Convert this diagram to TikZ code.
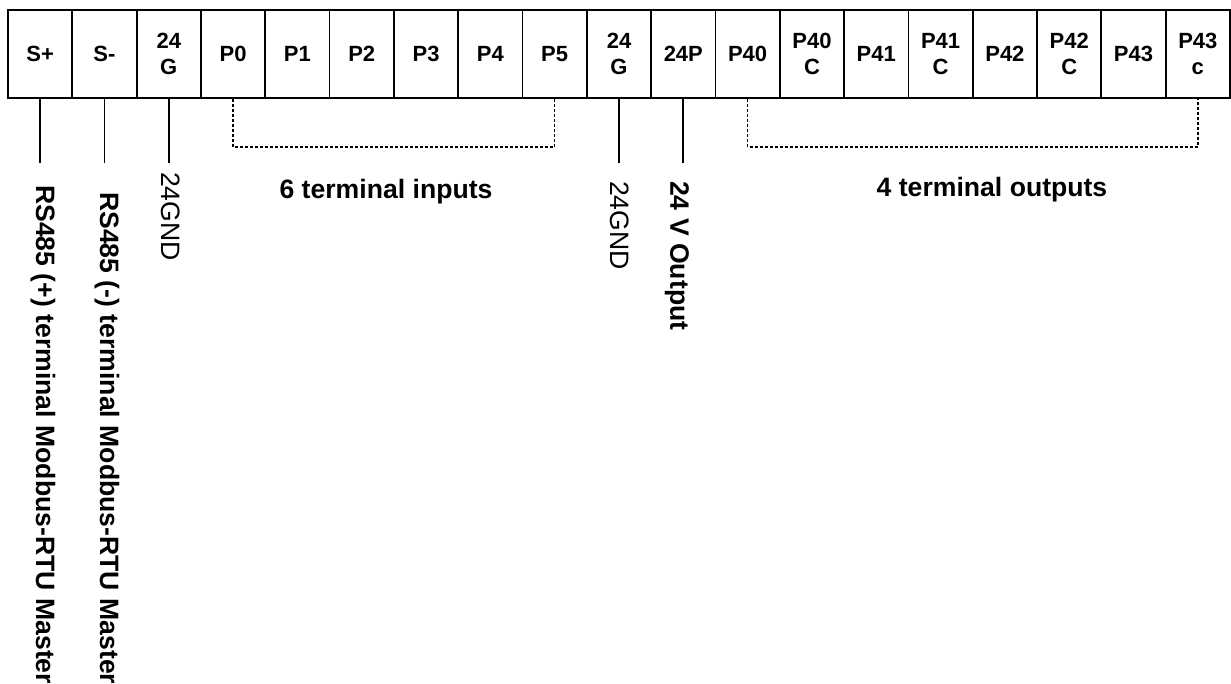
\documentclass[tikz,border=0pt]{standalone}
\usepackage{fontspec}
\setmainfont{Liberation Sans}
\begin{document}
\begin{tikzpicture}[x=1pt,y=-1pt,
  cell/.style={draw,line width=1.8pt,minimum width=64.316pt,minimum height=88pt,inner sep=0pt,align=center,
    font=\fontsize{22}{26}\selectfont\bfseries},
  wire/.style={line width=1.8pt},
  bus/.style={line width=1.4pt,dash pattern=on 3pt off 2pt},
  vlab/.style={rotate=-90,anchor=west,inner sep=0pt,font=\fontsize{26.6}{30}\selectfont\bfseries},
  vlabreg/.style={rotate=-90,anchor=west,inner sep=0pt,font=\fontsize{26.6}{30}\selectfont},
  hlab/.style={inner sep=0pt,font=\fontsize{26.6}{30}\selectfont\bfseries}]
\useasboundingbox (0,0) rectangle (1231,684);
\foreach \lab [count=\i from 0] in {S+,S-,{24\\G},P0,P1,P2,P3,P4,P5,{24\\G},24P,P40,{P40\\C},P41,{P41\\C},P42,{P42\\C},P43,{P43\\c}}
  \node[cell] (c\i) at ({8+(\i+0.5)*64.316},54) {\lab};
% free ends of the single wires
\foreach \i in {0,1,2,9,10}
  \coordinate (t\i) at ({8+(\i+0.5)*64.316},163);
\foreach \i in {0,1,2,9,10}
  \draw[wire] (c\i.south) -- (t\i);
% bus brackets
\coordinate (ib) at (0,147);
\draw[bus] (c3.south) -- (c3.south |- ib) -- (c8.south |- ib) -- (c8.south);
\draw[bus] (c11.south) -- (c11.south |- ib) -- (c18.south |- ib) -- (c18.south);
% labels
\node[hlab] (inlab) at (386,192) {6 terminal inputs};
\node[hlab] (outlab) at (992,190) {4 terminal outputs};
\node[vlab] (l0) at (43,185) {RS485 (+) terminal Modbus-RTU Master};
\node[vlab] (l1) at (107,192) {RS485 (-) terminal Modbus-RTU Master};
\node[vlabreg] (l2) at (171,172) {24GND};
\node[vlabreg] (l9) at (620,181) {24GND};
\node[vlab] (l10) at (677,181) {24 V Output};
\end{tikzpicture}
\end{document}
